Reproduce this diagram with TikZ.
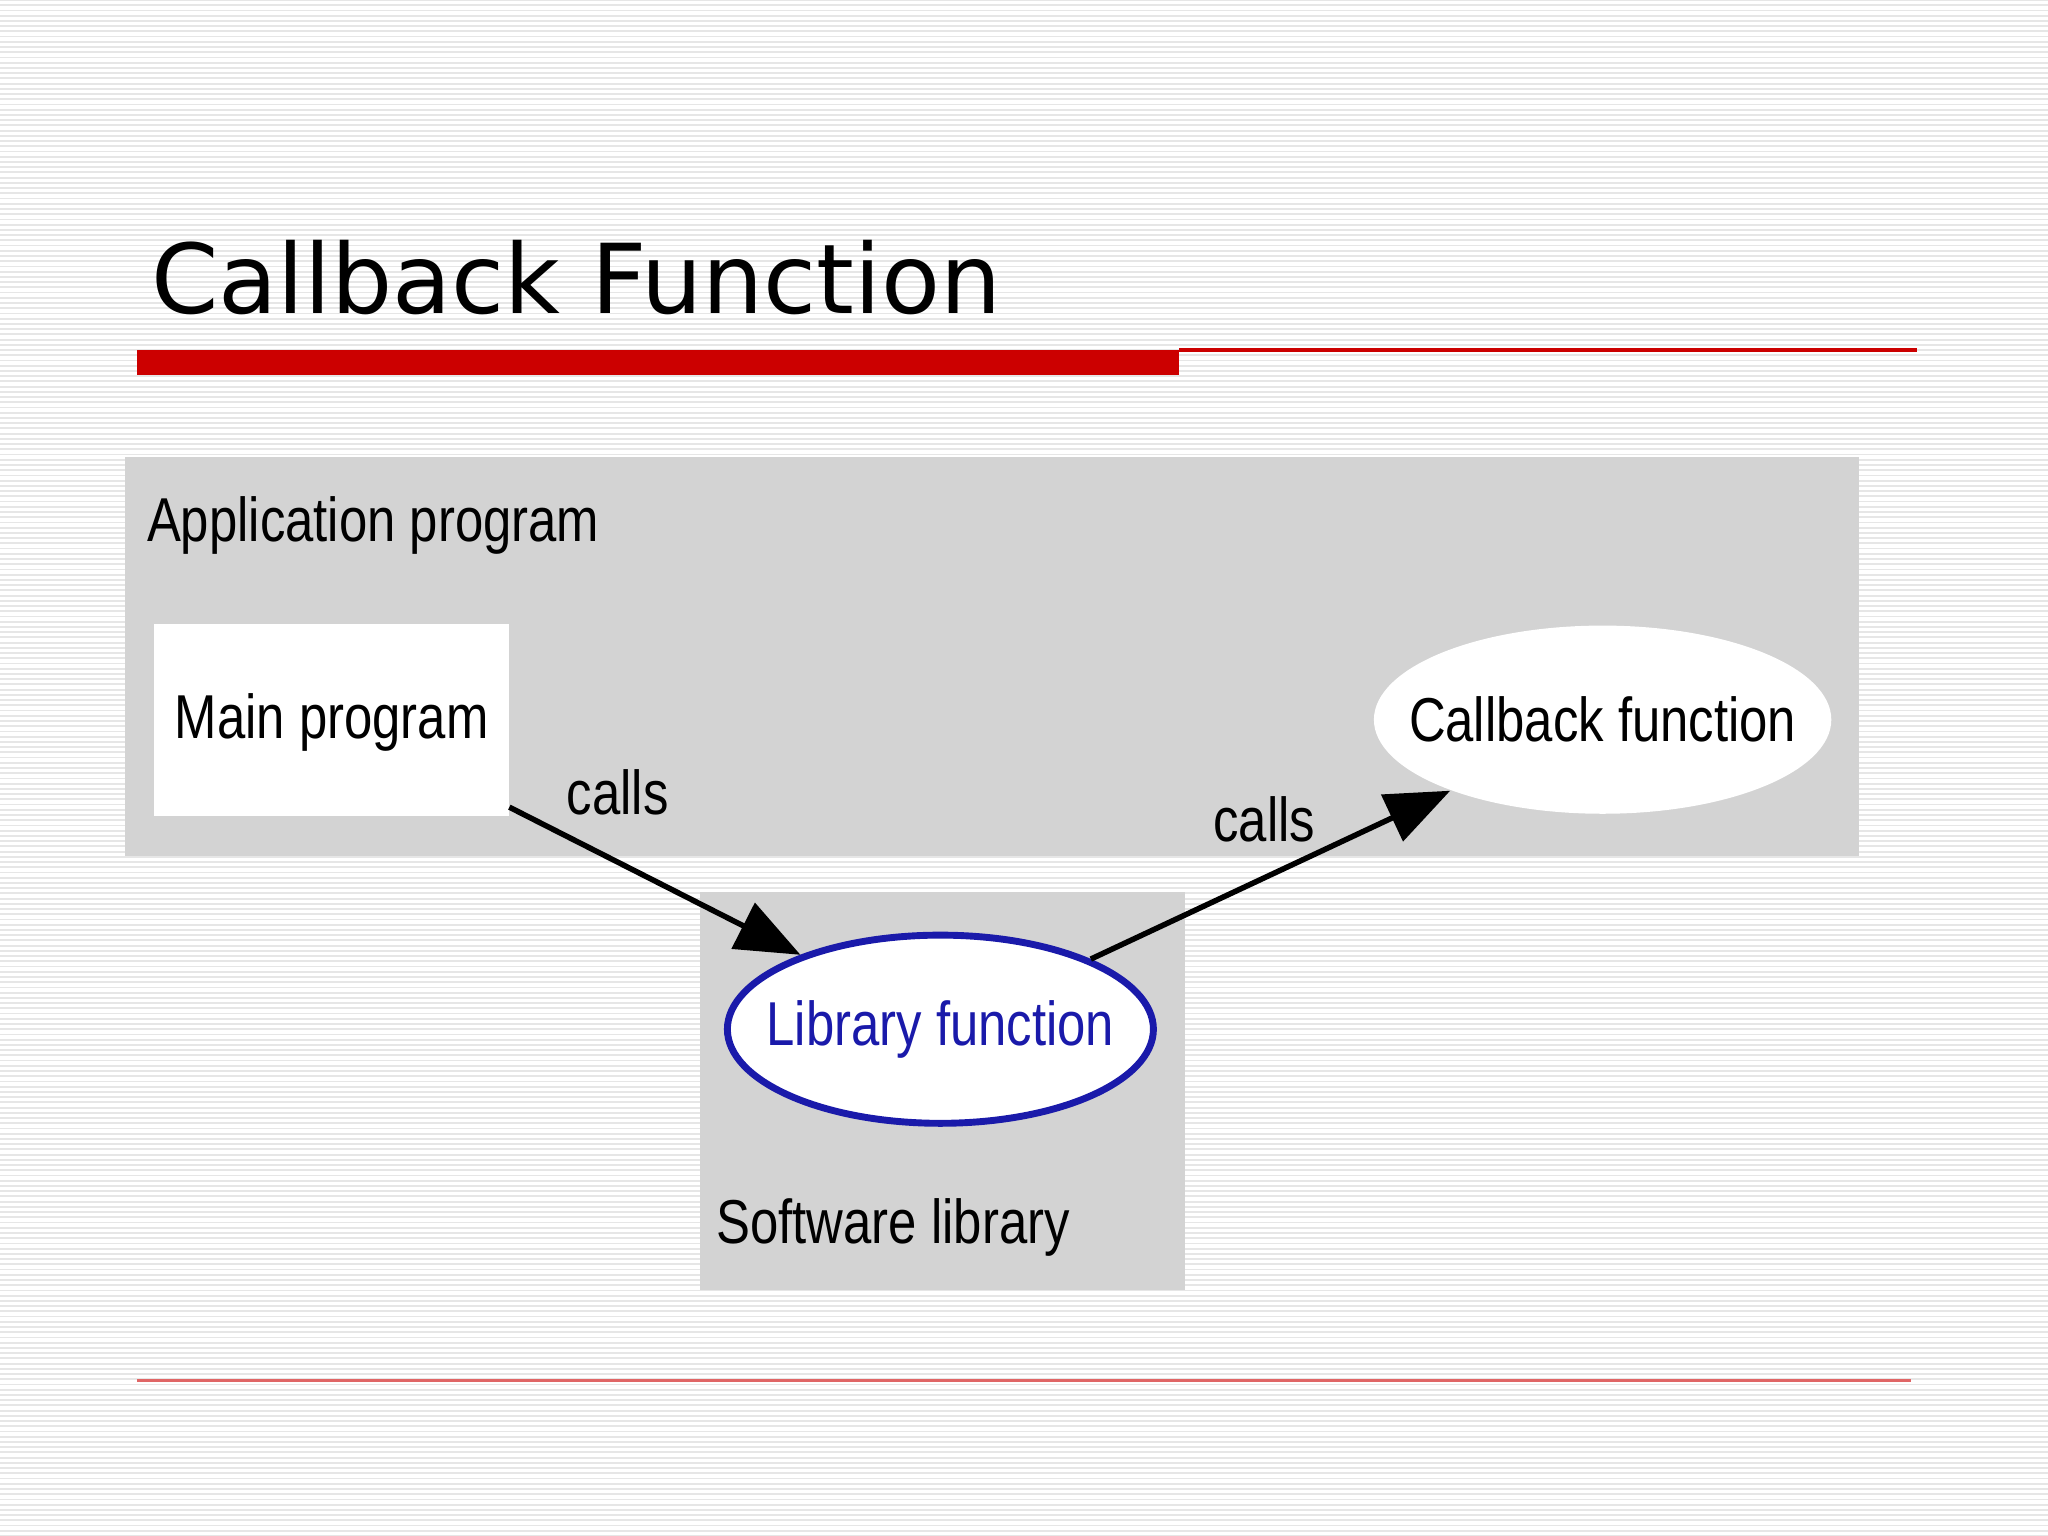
\documentclass[tikz,border=0pt]{standalone}
\usepackage{fontspec}
\setmainfont{Liberation Sans}
\newfontfamily\titlefont{DejaVu Sans}
\usetikzlibrary{shapes.geometric,arrows.meta}
\definecolor{boxgray}{HTML}{D3D3D3}
\definecolor{stripe}{HTML}{E6E6E6}
\definecolor{slidered}{HTML}{CC0000}
\definecolor{libblue}{HTML}{1A1AAA}
\tikzset{
  lbl/.style={font=\fontsize{13.5}{16}\selectfont, inner sep=0pt, xscale=0.82},
  arr/.style={-{Triangle[length=14pt,width=11pt]}, line width=1.2pt, black},
}
\begin{document}
\begin{tikzpicture}[x=0.01cm,y=-0.01cm]
\useasboundingbox (0,0) rectangle (1568,1176);
\fill[white] (0,0) rectangle (1568,1176);
\foreach \i in {0,4,...,1176} \draw[stripe, line width=0.4pt] (0,\i) -- (1568,\i);
% title
\node[anchor=base west, inner sep=0pt, font=\titlefont\fontsize{21}{26}\selectfont] (title) at (115,240) {Callback Function};
\fill[slidered] (105,268) rectangle (903,287);
\draw[slidered, line width=0.8pt] (903,268) -- (1468,268);
\draw[slidered!60, line width=0.5pt] (105,1057) -- (1463,1057);
% boxes
\fill[boxgray] (96,350) rectangle (1423,655);
\fill[boxgray] (536,683) rectangle (907,988);
\node[lbl, anchor=west] (apptxt) at (112,402) {Application program};
\node[lbl, anchor=west] (libtxt) at (548,940) {Software library};
\fill[white] (118,478) rectangle (390,625);
\coordinate (mainse) at (390,618);
\node[lbl] (maintxt) at (254,553) {Main program};
\node[ellipse, fill=white, minimum width=3.5cm, minimum height=1.44cm, inner sep=0pt] (cb) at (1227,551) {};
\node[lbl] (cbtxt) at (cb) {Callback function};
\node[ellipse, fill=white, draw=libblue, line width=1.5pt, minimum width=3.26cm, minimum height=1.44cm, inner sep=0pt] (lib) at (720,788) {};
\node[lbl, text=libblue] (libfn) at (lib) {Library function};
% arrows
\draw[arr] (mainse) -- (lib.152);
\draw[arr] (lib.25) -- (cb.205);
\node[lbl] (c1) at (473,607) {calls};
\node[lbl] (c2) at (968,627) {calls};
\end{tikzpicture}
\end{document}
